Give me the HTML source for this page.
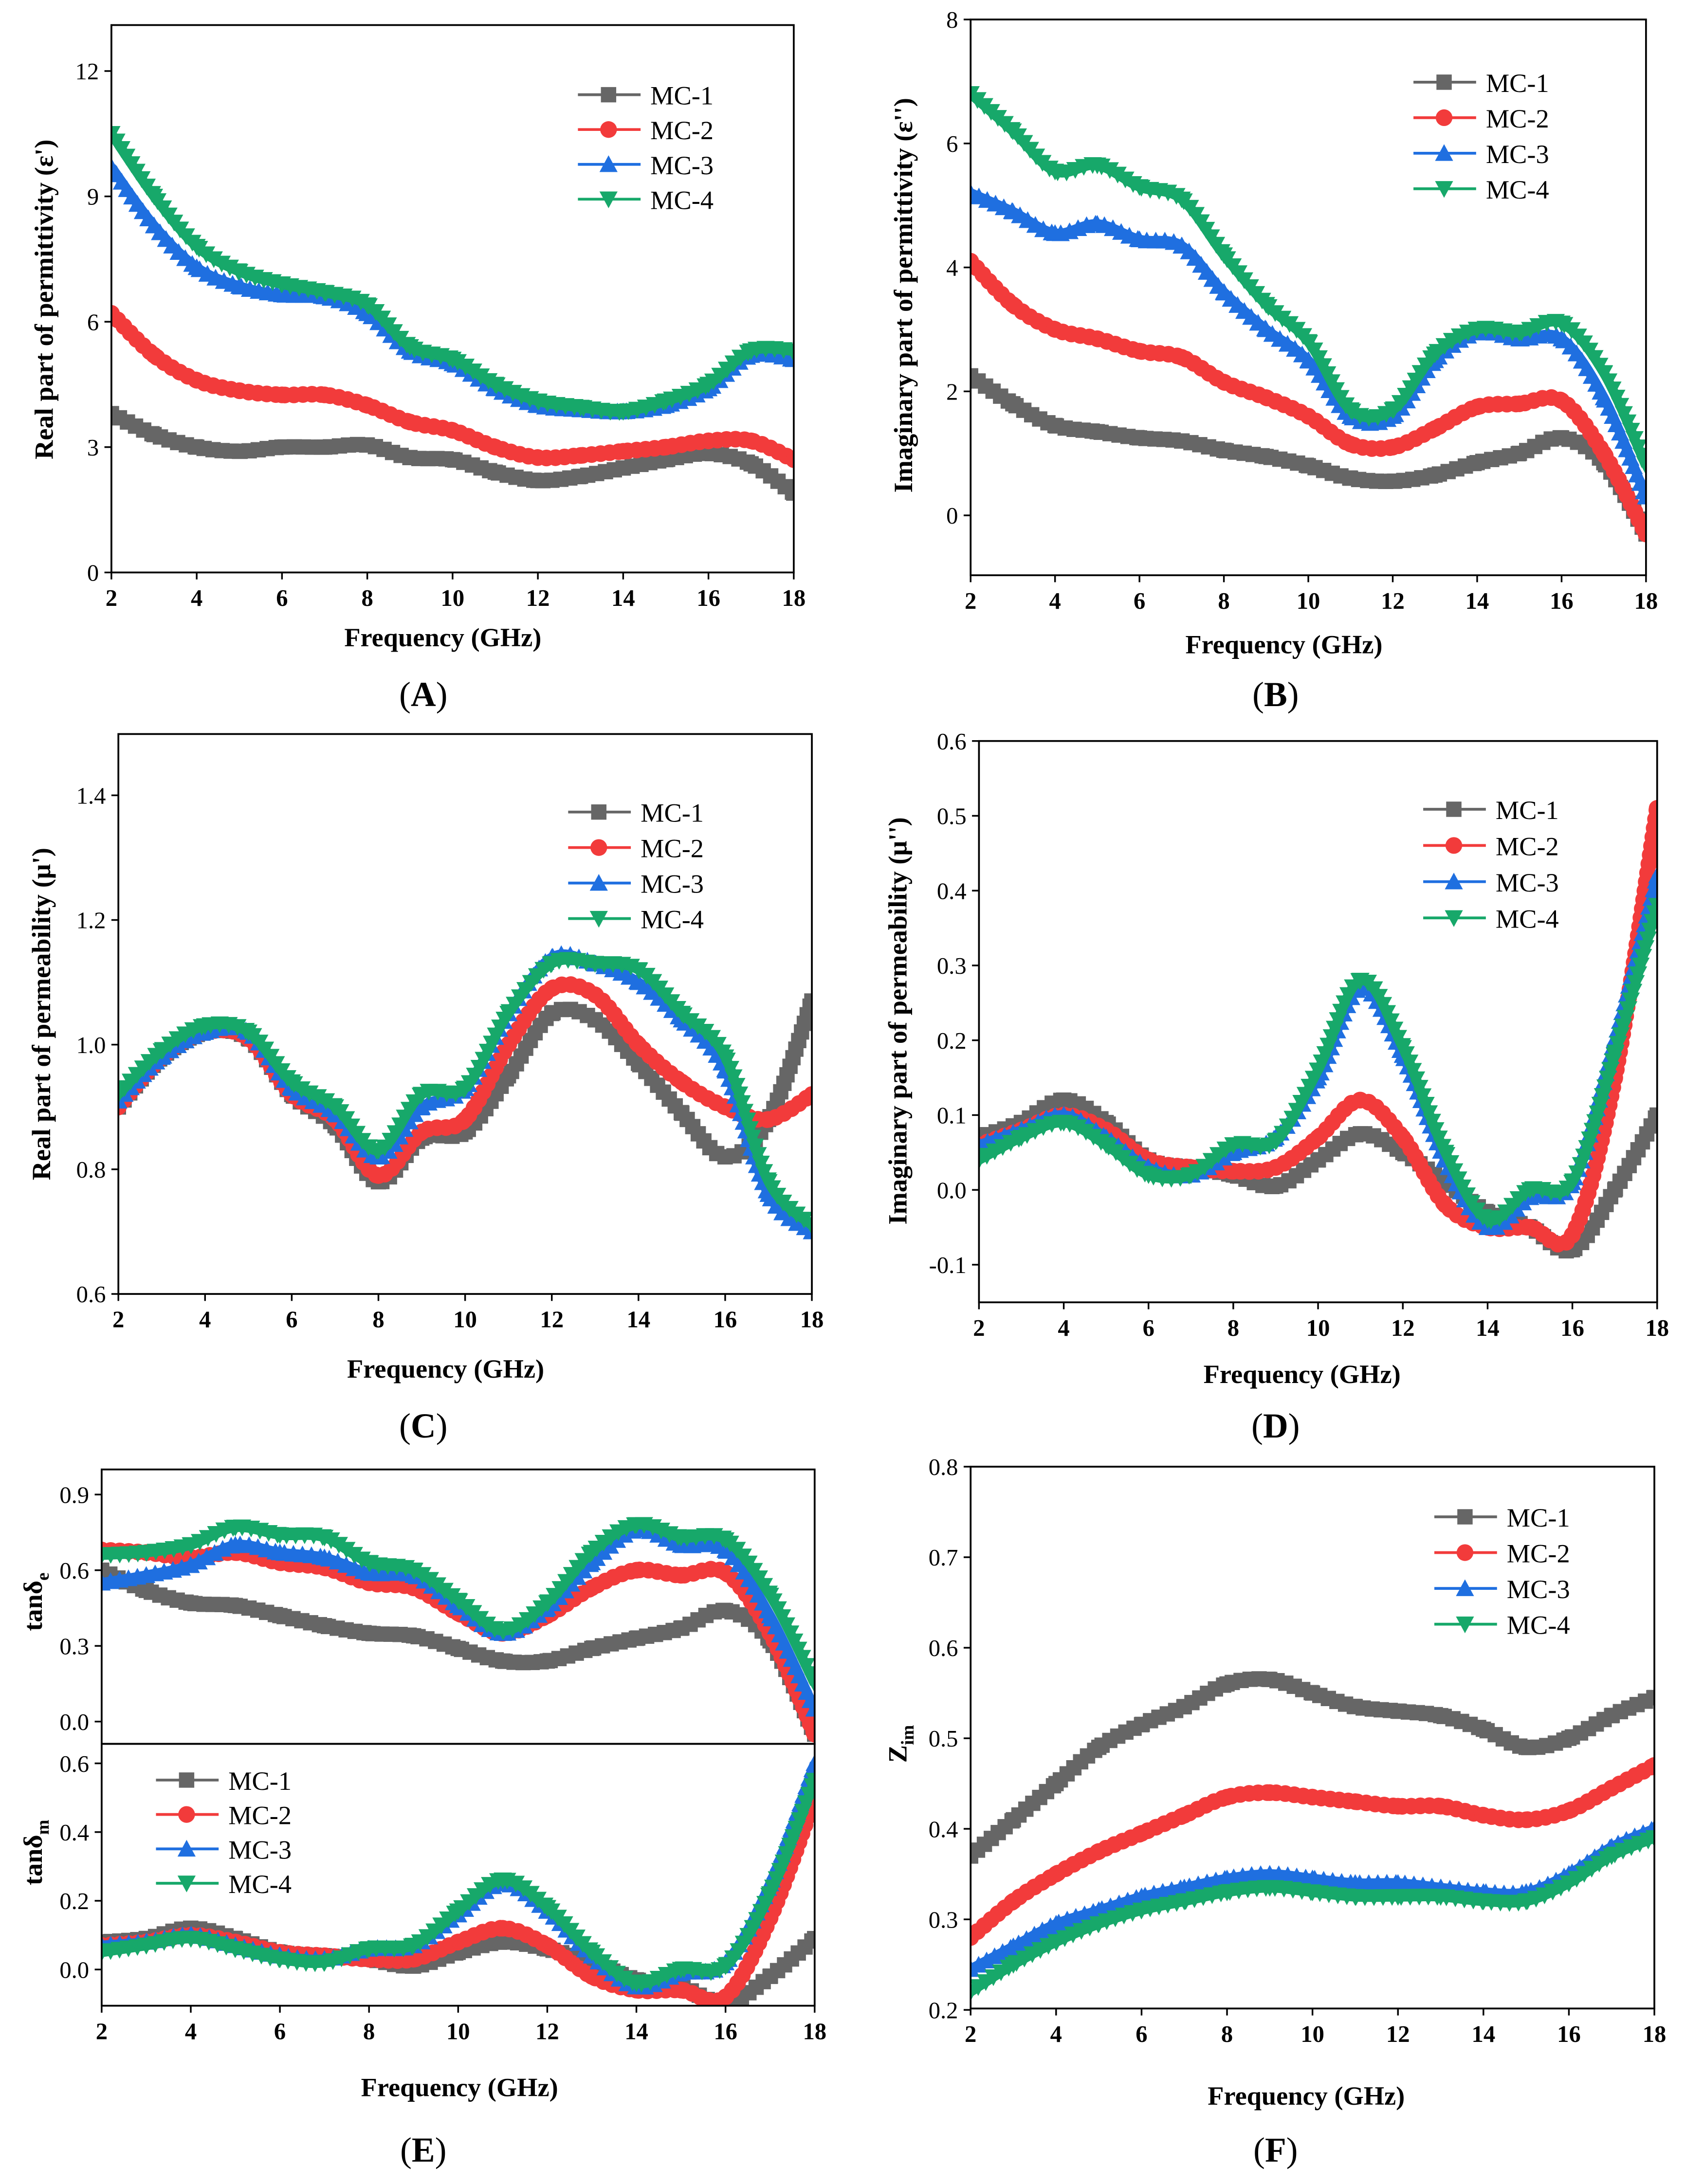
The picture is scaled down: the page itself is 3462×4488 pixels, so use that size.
<!DOCTYPE html>
<html><head><meta charset="utf-8">
<style>
html,body{margin:0;padding:0;background:#fff;}
svg{display:block;}
text{font-family:"Liberation Serif",serif;fill:#000;}
</style></head>
<body>
<svg id="fig" width="3462" height="4488" viewBox="0 0 1210 1568" preserveAspectRatio="none" xmlns="http://www.w3.org/2000/svg"></svg>
<script>
const freq = [2,3,4,5,6,7,8,9,10,11,12,13,14,15,16,17,18];
const seriesNames = ["MC-1","MC-2","MC-3","MC-4"];
// Panel A: real permittivity
const aMC1=[3.8,3.3,3.0,2.9,3.0,3.0,3.05,2.75,2.7,2.4,2.2,2.3,2.5,2.7,2.85,2.6,1.9];
const aMC2=[6.2,5.2,4.6,4.35,4.25,4.25,4.0,3.6,3.4,3.0,2.75,2.8,2.9,3.0,3.15,3.15,2.7];
const aMC3=[9.7,8.3,7.3,6.85,6.65,6.6,6.2,5.3,5.0,4.4,4.0,3.9,3.85,4.0,4.4,5.2,5.1];
const aMC4=[10.5,9.0,7.8,7.2,6.9,6.7,6.4,5.4,5.1,4.5,4.1,3.95,3.85,4.1,4.5,5.3,5.3];
// Panel B: imaginary permittivity
const bMC1=[2.25,1.8,1.45,1.35,1.25,1.2,1.05,0.95,0.8,0.6,0.55,0.65,0.85,1.0,1.25,0.85,-0.3];
const bMC2=[4.1,3.4,3.0,2.85,2.65,2.55,2.15,1.9,1.6,1.15,1.1,1.4,1.75,1.8,1.85,1.0,-0.3];
const bMC3=[5.2,4.9,4.55,4.7,4.45,4.35,3.6,3.0,2.5,1.6,1.6,2.5,2.95,2.85,2.85,1.9,0.3];
const bMC4=[6.8,6.2,5.55,5.65,5.3,5.1,4.2,3.4,2.8,1.7,1.7,2.6,3.0,2.95,3.1,2.3,0.8];
// Panel C: real permeability
const cMC1=[0.9,0.98,1.02,1.01,0.92,0.87,0.78,0.85,0.86,0.95,1.05,1.04,0.97,0.89,0.82,0.88,1.07];
const cMC2=[0.9,0.98,1.02,1.01,0.92,0.88,0.79,0.86,0.88,1.0,1.09,1.08,1.0,0.94,0.9,0.88,0.92];
const cMC3=[0.91,0.98,1.02,1.02,0.93,0.89,0.82,0.9,0.93,1.05,1.14,1.13,1.10,1.04,0.96,0.76,0.7];
const cMC4=[0.92,0.99,1.03,1.02,0.94,0.9,0.83,0.92,0.93,1.05,1.13,1.13,1.12,1.05,0.98,0.78,0.71];
// Panel D: imaginary permeability
const dMC1=[0.07,0.09,0.12,0.09,0.04,0.03,0.02,0.005,0.04,0.075,0.05,0.01,-0.03,-0.05,-0.08,0.0,0.1];
const dMC2=[0.06,0.08,0.1,0.08,0.04,0.03,0.025,0.03,0.07,0.12,0.07,-0.02,-0.05,-0.05,-0.06,0.15,0.51];
const dMC3=[0.06,0.08,0.1,0.07,0.03,0.02,0.05,0.07,0.15,0.27,0.18,0.04,-0.05,-0.01,0.01,0.2,0.42];
const dMC4=[0.04,0.07,0.09,0.06,0.02,0.02,0.06,0.065,0.16,0.28,0.19,0.05,-0.04,0.0,0.01,0.18,0.38];
// Panel E top: tan delta e
const eMC1=[0.6,0.52,0.47,0.46,0.42,0.38,0.35,0.34,0.29,0.24,0.24,0.29,0.33,0.37,0.44,0.32,-0.05];
const eMC2=[0.68,0.67,0.65,0.67,0.63,0.61,0.55,0.53,0.43,0.35,0.42,0.53,0.6,0.58,0.59,0.35,-0.05];
const eMC3=[0.55,0.58,0.62,0.7,0.67,0.65,0.59,0.58,0.46,0.35,0.45,0.63,0.76,0.7,0.68,0.42,0.05];
const eMC4=[0.66,0.67,0.7,0.77,0.74,0.73,0.63,0.6,0.48,0.36,0.47,0.67,0.78,0.73,0.72,0.5,0.15];
// Panel E bottom: tan delta m
const mMC1=[0.08,0.09,0.12,0.09,0.05,0.04,0.03,0.01,0.05,0.08,0.06,0.02,-0.03,-0.05,-0.1,-0.02,0.09];
const mMC2=[0.07,0.08,0.1,0.08,0.05,0.04,0.03,0.03,0.08,0.12,0.07,-0.02,-0.06,-0.06,-0.08,0.15,0.5];
const mMC3=[0.07,0.08,0.1,0.07,0.04,0.03,0.06,0.07,0.16,0.25,0.17,0.04,-0.05,-0.01,0.02,0.25,0.6];
const mMC4=[0.05,0.07,0.09,0.06,0.03,0.02,0.06,0.07,0.17,0.26,0.18,0.05,-0.04,0.0,0.01,0.22,0.55];
// Panel F: Zim
const fMC1=[0.37,0.41,0.45,0.49,0.515,0.535,0.56,0.565,0.55,0.535,0.53,0.525,0.51,0.49,0.5,0.525,0.545];
const fMC2=[0.28,0.32,0.35,0.375,0.395,0.415,0.435,0.44,0.435,0.43,0.425,0.425,0.415,0.41,0.42,0.445,0.47];
const fMC3=[0.245,0.27,0.295,0.31,0.325,0.335,0.345,0.35,0.345,0.34,0.34,0.335,0.33,0.33,0.35,0.38,0.4];
const fMC4=[0.22,0.25,0.275,0.295,0.31,0.32,0.33,0.335,0.33,0.325,0.325,0.325,0.32,0.32,0.34,0.37,0.39];

const xTicks=[2,4,6,8,10,12,14,16,18];
const aTicks=[0,3,6,9,12];
const bTicks=[0,2,4,6,8];
const cTicks=[0.6,0.8,1.0,1.2,1.4];
const dTicks=[-0.1,0.0,0.1,0.2,0.3,0.4,0.5,0.6];
const eTicks=[0.0,0.3,0.6,0.9];
const mTicks=[0.0,0.2,0.4,0.6];
const fTicks=[0.2,0.3,0.4,0.5,0.6,0.7,0.8];

const colors=["#666666","#f23b3b","#1f6fe0","#17a86a"];
const svg=document.getElementById('fig');
const NS="http://www.w3.org/2000/svg";
function mk(tag,attrs,parent){const e=document.createElementNS(NS,tag);for(const k in attrs)e.setAttribute(k,attrs[k]);(parent||svg).appendChild(e);return e;}
function txt(s,x,y,size,parent,extra){const t=mk('text',Object.assign({x:x,y:y,'font-size':size},extra||{}),parent);t.textContent=s;return t;}
function marker(i,x,y,g){const c=colors[i];const s=5.5;
  if(i===0)return mk('rect',{x:x-s,y:y-s,width:2*s,height:2*s,fill:c},g);
  if(i===1)return mk('circle',{cx:x,cy:y,r:s+0.5,fill:c},g);
  if(i===2)return mk('polygon',{points:`${x},${y-s-1} ${x-s-1},${y+s} ${x+s+1},${y+s}`,fill:c},g);
  return mk('polygon',{points:`${x},${y+s+1} ${x-s-1},${y-s} ${x+s+1},${y-s}`,fill:c},g);}
function smooth(pts){let d=`M${pts[0][0]},${pts[0][1]}`;
  for(let i=0;i<pts.length-1;i++){const p0=pts[Math.max(0,i-1)],p1=pts[i],p2=pts[i+1],p3=pts[Math.min(pts.length-1,i+2)];
    const c1=[p1[0]+(p2[0]-p0[0])/6,p1[1]+(p2[1]-p0[1])/6],c2=[p2[0]-(p3[0]-p1[0])/6,p2[1]-(p3[1]-p1[1])/6];
    d+=` C${c1[0]},${c1[1]} ${c2[0]},${c2[1]} ${p2[0]},${p2[1]}`;}return d;}

function panel(o){
  const g=mk('g',{});
  
  
  const sx=v=>o.x0+(v-2)/16*(o.x1-o.x0);
  const sy=v=>o.yb+(v-o.vb)/(o.vt-o.vb)*(o.yt-o.yb);
  const clipId='clip'+o.name;
  const cp=mk('clipPath',{id:clipId},g);mk('rect',{x:o.x0,y:o.y0,width:o.x1-o.x0,height:o.y1-o.y0},cp);
  const sg=mk('g',{'clip-path':`url(#${clipId})`},g);
  o.series.forEach((arr,i)=>{
    const pts=freq.map((f,j)=>[sx(f),sy(arr[j])]);
    const p=mk('path',{d:smooth(pts),fill:'none',stroke:colors[i],'stroke-width':7,'stroke-linejoin':'round'},sg);
    
    
    const L=p.getTotalLength();
    for(let l=0;l<=L;l+=6.5){const pt=p.getPointAtLength(l);const m=marker(i,pt.x,pt.y,sg);
      
      }
    pts.forEach(pt=>{const m=marker(i,pt[0],pt[1],sg);
      
      });
  });
  const fr=mk('rect',{x:o.x0,y:o.y0,width:o.x1-o.x0,height:o.y1-o.y0,fill:'none',stroke:'#000','stroke-width':1.3},g);
  
  
  o.yticks.forEach(v=>{const y=sy(v);mk('line',{x1:o.x0-5,x2:o.x0,y1:y,y2:y,stroke:'#000','stroke-width':1.2},g);
    const t=txt(o.fmt?o.fmt(v):String(v),o.x0-9,y+6,17,g,{'text-anchor':'end'});
    });
  if(o.xticks){xTicks.forEach(v=>{const x=sx(v);mk('line',{x1:x,x2:x,y1:o.y1,y2:o.y1+5,stroke:'#000','stroke-width':1.2},g);
    const t=txt(String(v),x,o.y1+24,17,g,{'text-anchor':'middle','font-weight':'bold'});
    });}
  if(o.leg){const L=o.leg;seriesNames.forEach((n,i)=>{const y=L.y+i*L.dy;
    const lg=mk('g',{},g);
    
    
    mk('line',{x1:L.x,x2:L.x+45,y1:y,y2:y,stroke:colors[i],'stroke-width':2},lg);
    marker(i,L.x+22,y,lg);
    txt(n,L.x+52,y+7,19,lg);});}
  return {sx,sy};
}
function ytitle(s,x,y,name,sub){const t=mk('text',{x:0,y:0,'font-size':19,'font-weight':'bold','text-anchor':'middle',transform:`translate(${x},${y}) rotate(-90)`});
  t.textContent=s;if(sub){const ts=mk('tspan',{'font-size':13,dy:5},t);ts.textContent=sub;}
  }
function xtitle(x,y,name){const t=txt('Frequency (GHz)',x,y,19,svg,{'text-anchor':'middle','font-weight':'bold'});}
function plabel(s,x,y,name){const t=mk('text',{x:x,y:y,'font-size':25,'text-anchor':'middle'});
  t.appendChild(document.createTextNode('('));const b=mk('tspan',{'font-weight':'bold'},t);b.textContent=s;t.appendChild(document.createTextNode(')'));
  }

const f1=v=>v.toFixed(1);
panel({name:'panel-a',x0:80,x1:570,y0:18,y1:411,yb:411,vb:0,yt:51,vt:12,series:[aMC1,aMC2,aMC3,aMC4],yticks:aTicks,xticks:true,leg:{x:415,y:68,dy:25}});
ytitle('Real part of permittivity (ε\')',38,215,'panel-a-y-title');xtitle(318,464,'panel-a-x-title');plabel('A',304,507,'panel-a-label');

panel({name:'panel-b',x0:697,x1:1182,y0:14,y1:413,yb:370,vb:0,yt:14,vt:8,series:[bMC1,bMC2,bMC3,bMC4],yticks:bTicks,xticks:true,leg:{x:1015,y:59,dy:25.5}});
ytitle('Imaginary part of permittivity (ε\'\')',655,212,'panel-b-y-title');xtitle(922,469,'panel-b-x-title');plabel('B',916,507,'panel-b-label');

panel({name:'panel-c',x0:85,x1:583,y0:527,y1:929,yb:929,vb:0.6,yt:571,vt:1.4,series:[cMC1,cMC2,cMC3,cMC4],yticks:cTicks,fmt:f1,xticks:true,leg:{x:408,y:583,dy:25.5}});
ytitle('Real part of permeability (μ\')',36,728,'panel-c-y-title');xtitle(320,989,'panel-c-x-title');plabel('C',304,1032,'panel-c-label');

panel({name:'panel-d',x0:703,x1:1190,y0:532,y1:935,yb:908,vb:-0.1,yt:532,vt:0.6,series:[dMC1,dMC2,dMC3,dMC4],yticks:dTicks,fmt:f1,xticks:true,leg:{x:1022,y:581,dy:26}});
ytitle('Imaginary part of permeability (μ\'\')',651,733,'panel-d-y-title');xtitle(935,993,'panel-d-x-title');plabel('D',916,1032,'panel-d-label');

panel({name:'panel-e-top',x0:73,x1:585,y0:1055,y1:1252,yb:1236,vb:0,yt:1073,vt:0.9,series:[eMC1,eMC2,eMC3,eMC4],yticks:eTicks,fmt:f1,xticks:false});
panel({name:'panel-e-bottom',x0:73,x1:585,y0:1252,y1:1440,yb:1414,vb:0,yt:1266,vt:0.6,series:[mMC1,mMC2,mMC3,mMC4],yticks:mTicks,fmt:f1,xticks:true,leg:{x:112,y:1278,dy:24.7}});
ytitle('tanδ',30,1150,'panel-e-top-y-title','e');ytitle('tanδ',30,1330,'panel-e-bottom-y-title','m');
xtitle(330,1505,'panel-e-x-title');plabel('E',304,1552,'panel-e-label');

panel({name:'panel-f',x0:697,x1:1188,y0:1053,y1:1442,yb:1443,vb:0.2,yt:1053,vt:0.8,series:[fMC1,fMC2,fMC3,fMC4],yticks:fTicks,fmt:f1,xticks:true,leg:{x:1030,y:1089,dy:25.7}});
ytitle('Z',651,1252,'panel-f-y-title','im');
xtitle(938,1511,'panel-f-x-title');plabel('F',916,1552,'panel-f-label');
</script>
</body></html>
